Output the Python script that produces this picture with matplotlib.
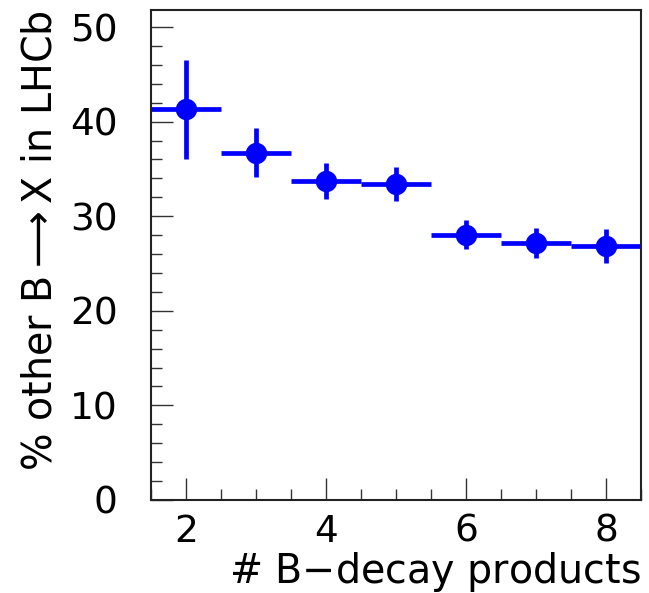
import numpy as np
import matplotlib.pyplot as plt
from matplotlib.ticker import MultipleLocator

# --- data ---
n_products = [2, 3, 4, 5, 6, 7, 8]
pct_other = [41.3, 36.7, 33.7, 33.4, 28.0, 27.2, 26.9]
err_up = [5.2, 2.6, 1.9, 1.8, 1.6, 1.6, 1.8]
err_down = [5.3, 2.6, 1.9, 1.8, 1.5, 1.6, 1.8]
bin_half = [0.5, 0.5, 0.5, 0.5, 0.5, 0.5, 0.5]

fig = plt.figure(figsize=(6.49, 5.93), dpi=100)
ax = fig.add_axes([151 / 649, 1 - 500 / 593, 490 / 649, 490 / 593])

ax.errorbar(n_products, pct_other, xerr=bin_half, yerr=[err_down, err_up],
            fmt='o', color='#0000ff', ms=14.4, elinewidth=3.4, capsize=0)

ax.set_xlim(1.5, 8.5)
ax.set_ylim(0, 51.8)
ax.xaxis.set_major_locator(MultipleLocator(2))
ax.xaxis.set_minor_locator(MultipleLocator(0.5))
ax.yaxis.set_major_locator(MultipleLocator(10))
ax.yaxis.set_minor_locator(MultipleLocator(2))
ax.tick_params(which='both', direction='in', top=False, right=False, width=1, color='#333333')
ax.tick_params(which='major', length=15.5, labelsize=27)
ax.tick_params(which='minor', length=8)
ax.tick_params(axis='y', pad=24)
ax.tick_params(axis='x', pad=10)
for s in ax.spines.values():
    s.set_linewidth(1.5)
    s.set_color('#222222')

ax.set_xlabel('# B$-$decay products', fontsize=28.5, loc='right', labelpad=0)
ax.set_ylabel(r'% other B$\longrightarrow$X in LHCb', fontsize=28.5, loc='top', labelpad=7)

fig.savefig('out.png', dpi=100)
